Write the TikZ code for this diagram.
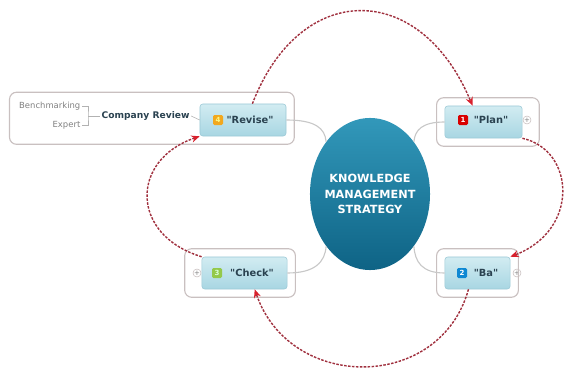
\documentclass[tikz,border=0pt]{standalone}
\usepackage{fontspec}
\setmainfont{DejaVu Sans}
\usetikzlibrary{arrows.meta, shapes.geometric, fit}

\definecolor{coretop}{HTML}{3298BA}
\definecolor{corebot}{HTML}{0E6385}
\definecolor{boxtop}{HTML}{D2ECF2}
\definecolor{boxbot}{HTML}{A8D6E2}
\definecolor{boxline}{HTML}{9CC9D6}
\definecolor{grpline}{HTML}{C9C0C0}
\definecolor{stagetxt}{HTML}{2A4250}
\definecolor{linkgray}{HTML}{C8C8C8}
\definecolor{arrowred}{HTML}{A0303E}
\definecolor{tipred}{HTML}{D8202C}
\definecolor{badgegreen}{HTML}{94C94A}
\definecolor{badgeorange}{HTML}{F2A81E}

\newcommand{\qt}[1]{\textquotedbl#1\textquotedbl}

\tikzset{
  core/.style={ellipse, minimum width=3cm, minimum height=3.8cm, inner sep=-3pt,
    top color=coretop, bottom color=corebot, text=white, align=center,
    font=\fontsize{8}{11}\selectfont\bfseries},
  stagebox/.style={rectangle, rounded corners=2pt, draw=boxline,
    top color=boxtop, bottom color=boxbot, minimum height=0.8cm},
  stagetext/.style={text=stagetxt, inner sep=1pt, font=\fontsize{7}{8}\selectfont\bfseries},
  badge/.style={rectangle, rounded corners=1pt, minimum size=0.25cm, inner sep=0pt,
    text=white, font=\fontsize{5}{5}\selectfont\bfseries},
  grp/.style={rectangle, rounded corners=5pt, draw=grpline, line width=0.8pt, inner sep=0.2cm},
  plus/.style={circle, draw=grpline, fill=white, inner sep=0pt, minimum size=0.2cm,
    text=gray, font=\fontsize{5}{5}\selectfont},
  note/.style={text=gray, inner sep=1pt, font=\fontsize{6}{7}\selectfont},
  twig/.style={draw=gray!60, line width=0.4pt},
  link/.style={draw=linkgray, line width=0.8pt},
  pdca/.style={draw=arrowred, line width=1pt, dash pattern=on 1.8pt off 1pt,
    -{Stealth[length=6pt, width=5pt, color=tipred]}},
}

\begin{document}
\begin{tikzpicture}[x=0.025cm, y=-0.025cm]
    \useasboundingbox (0,0) rectangle (567,369);

    \node[core] (kms) at (370,194) {KNOWLEDGE\\MANAGEMENT\\STRATEGY};

    % stage boxes
    \node[stagebox, minimum width=2.15cm] (revise) at (243,120) {};
    \node[stagebox, minimum width=1.93cm] (plan) at (483.5,122) {};
    \node[stagebox, minimum width=1.63cm] (ba) at (477.5,273) {};
    \node[stagebox, minimum width=2.13cm] (check) at (244.5,273) {};

    \node[badge, fill=badgeorange, text=yellow!50] (revise-n) at (218,120) {4};
    \node[badge, fill=red!85!black] (plan-n) at (463,120) {1};
    \node[badge, fill=cyan!70!blue] (ba-n) at (462,273) {2};
    \node[badge, fill=badgegreen, text=green!15] (check-n) at (217,273) {3};

    \node[stagetext] (revise-t) at (250,120) {\qt{Revise}};
    \node[stagetext] (plan-t) at (491,120) {\qt{Plan}};
    \node[stagetext] (ba-t) at (486,273) {\qt{Ba}};
    \node[stagetext] (check-t) at (252,273) {\qt{Check}};

    \node[plus] (plan-plus) at (527,120) {+};
    \node[plus] (ba-plus) at (517,273) {+};
    \node[plus] (check-plus) at (197,273) {+};

    % branch in front of "Revise"
    \node[stagetext, font=\fontsize{6.5}{8}\selectfont\bfseries, anchor=west] (review) at (100,116) {Company Review};
    \node[note, anchor=east] (bench) at (82,106) {Benchmarking};
    \node[note, anchor=east] (expert) at (82,125) {Expert};
    \coordinate (brace) at (88,116);
    \draw[twig] (bench.east) -| (brace) |- (expert.east);
    \draw[twig] (brace) -- (review.west);
    \draw[twig] (review.east) -- (revise.west);

    % group frames
    \node[grp, fit=(revise)(bench)(expert)(review)] (revise-grp) {};
    \node[grp, fit=(plan)(plan-plus)] (plan-grp) {};
    \node[grp, fit=(ba)] (ba-grp) {};
    \node[grp, fit=(check)(check-plus)] (check-grp) {};

    % links to the centre
    \draw[link] (revise.east) .. controls (315,120) and (325,128) .. (kms.130);
    \draw[link] (plan.west) .. controls (422,122) and (415,130) .. (kms.50);
    \draw[link] (check.east) .. controls (315,273) and (325,262) .. (kms.-130);
    \draw[link] (ba.west) .. controls (422,273) and (415,262) .. (kms.-50);

    % the cycle
    \draw[pdca] (revise.60) .. controls (300,-20) and (420,-20) .. (plan.124);
    \draw[pdca] (plan.south east) .. controls (575,150) and (580,230) .. (ba.north east);
    \draw[pdca] (ba.-119) .. controls (440,392) and (290,392) .. (check.-58);
    \draw[pdca] (check.north west) .. controls (130,235) and (130,160) .. (revise.south west);
\end{tikzpicture}
\end{document}
